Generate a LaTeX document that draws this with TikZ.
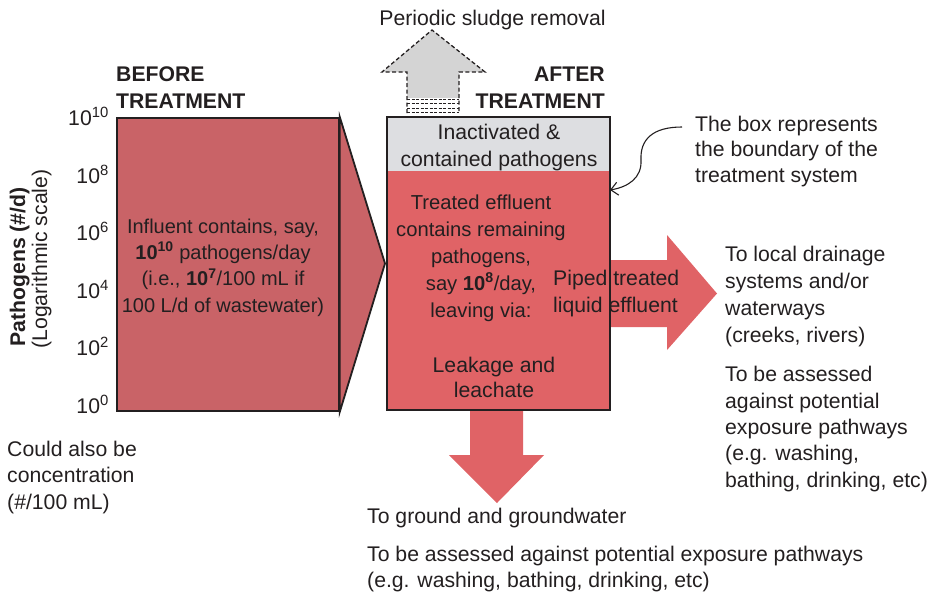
\documentclass[tikz,border=0pt]{standalone}
\usepackage{fontspec}
\setmainfont{Liberation Sans}
\usetikzlibrary{arrows.meta}
\definecolor{beforered}{HTML}{C96367}
\definecolor{afterred}{HTML}{E06366}
\definecolor{graybox}{HTML}{DDDEE1}
\definecolor{sludgegray}{HTML}{D4D4D4}
\definecolor{ink}{HTML}{231F20}
\newcommand\fsz{\fontsize{21.2}{26.3}\selectfont}
\begin{document}
\begin{tikzpicture}[x=1pt,y=-1pt,
  txt/.style={font=\fsz, text=ink, inner sep=0pt},
  boldtxt/.style={font=\fsz\bfseries, text=ink, inner sep=0pt},
  outline/.style={draw=ink, line width=1.8pt},
  dashline/.style={draw=ink, line width=1.3pt, dash pattern=on 4pt off 2.5pt},
  blockarrow/.style={fill=afterred, draw=none}]
\useasboundingbox (0,0) rectangle (932,597);

% before box and triangle
\node[outline, fill=beforered, minimum width=222pt, minimum height=293pt, inner sep=0pt, anchor=north west] (beforebox) at (116,117) {};
\coordinate (tip) at (385,263.5);
\draw[outline, fill=beforered, line join=miter] (beforebox.north east) -- (tip) -- (beforebox.south east) -- cycle;

% after box fills
\node[fill=graybox, minimum width=223pt, minimum height=55pt, inner sep=0pt, anchor=north west] (containedbox) at (386,116) {};
\node[fill=afterred, minimum width=223pt, minimum height=238pt, inner sep=0pt, anchor=north west] (effluentbox) at (386,171) {};

% block arrows
\fill[blockarrow] (608,260) -- (667,260) -- (667,235) -- (717,293.5) -- (667,350) -- (667,327) -- (608,327) -- cycle;
\fill[blockarrow] (470,408) -- (523,408) -- (523,455) -- (544,455) -- (497,503) -- (449,455) -- (470,455) -- cycle;

% system outline
\node[outline, minimum width=223pt, minimum height=293pt, inner sep=0pt, anchor=north west] (system) at (386,116) {};

% sludge arrow
\fill[sludgegray] (407,98) -- (407,72) -- (382,72) -- (432,30) -- (485,72) -- (459,72) -- (459,98) -- cycle;
\fill[white] (407,98) rectangle (459,113);
\draw[dashline, line join=miter] (407,113) -- (407,72) -- (382,72) -- (432,30) -- (485,72) -- (459,72) -- (459,113);
\foreach \yy in {99,103.5,108,112.5}
  \draw[dashline, line width=1pt, dash pattern=on 3pt off 1.5pt] (407,\yy) -- (459,\yy);

% texts (multi-line nodes: base anchor = baseline of last line)
\node[txt, anchor=base] (sludge) at (492.5,25) {Periodic sludge removal};
\node[boldtxt, anchor=base west, align=left] (before) at (116,108) {BEFORE\\TREATMENT};
\node[boldtxt, anchor=base east, align=right] (after) at (605,108) {AFTER\\TREATMENT};
\node[txt, anchor=base, align=center] (contained) at (499,166) {Inactivated \&\\contained pathogens};
\node[txt, anchor=base, align=center, font=\fontsize{20.2}{27}\selectfont] (effluent) at (481,317) {Treated effluent\\contains remaining\\pathogens,\\say \textbf{10\textsuperscript{8}}/day,\\leaving via:};
\node[txt, anchor=base west, align=left, font=\fontsize{21.2}{27}\selectfont] (piped) at (553,312) {Piped treated\\liquid effluent};
\node[txt, anchor=base, align=center, font=\fontsize{21.2}{25}\selectfont] (leakage) at (494,397) {Leakage and\\leachate};
\node[txt, anchor=base, align=center, font=\fontsize{20}{26.3}\selectfont] (influent) at (223,312) {Influent contains, say,\\\textbf{10\textsuperscript{10}} pathogens/day\\(i.e., \textbf{10\textsuperscript{7}}/100 mL if\\100 L/d of wastewater)};
\node[txt, anchor=base west, align=left, font=\fontsize{21.2}{25.5}\selectfont] (note) at (695,182) {The box represents\\the boundary of the\\treatment system};
\node[txt, anchor=base west, align=left, font=\fontsize{21.2}{27}\selectfont] (drain) at (725,342) {To local drainage\\systems and/or\\waterways\\(creeks, rivers)};
\node[txt, anchor=base west, align=left] (assessright) at (725,487) {To be assessed\\against potential\\exposure pathways\\(e.g. washing,\\bathing, drinking, etc)};
\node[txt, anchor=base west, align=left, font=\fontsize{21.2}{26.5}\selectfont] (could) at (7,509) {Could also be\\concentration\\(\#/100 mL)};
\node[txt, anchor=base west] (ground) at (367,523) {To ground and groundwater};
\node[txt, anchor=base west, align=left, font=\fontsize{21.2}{25.5}\selectfont] (assessbottom) at (367,587) {To be assessed against potential exposure pathways\\(e.g. washing, bathing, drinking, etc)};

% axis
\foreach \e/\yy in {10/125,8/183,6/240,4/298,2/355,0/413}
  \node[txt, anchor=base east] (tick\e) at (109,\yy) {10\textsuperscript{\e}};
\node[boldtxt, rotate=90, anchor=base] (ylab) at (25,267) {Pathogens (\#/d)};
\node[txt, rotate=90, anchor=base] (ylab2) at (47,259) {(Logarithmic scale)};

% note connector
\coordinate (notestart) at (682,127);
\coordinate (boxpoint) at (610,190);
\draw[ink, line width=1.1pt, -{Straight Barb[length=7pt,width=13pt]}] (notestart) .. controls (652,127) and (640,140) .. (641,160) .. controls (642,178) and (628,187) .. (boxpoint);
\end{tikzpicture}
\end{document}
